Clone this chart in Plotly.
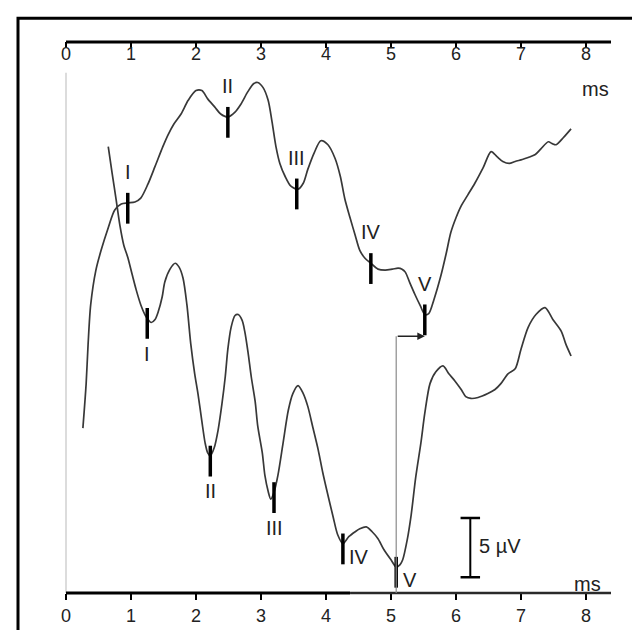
import numpy as np
import plotly.graph_objects as go

# ---------------- data ----------------
tick_vals = [0, 1, 2, 3, 4, 5, 6, 7, 8]
tick_text = ["0", "1", "2", "3", "4", "5", "6", "7", "8"]
peak_names = ["I", "II", "III", "IV", "V"]

# upper waveform (ms, µV incl. display offset)
upper_t = [0.26, 0.31, 0.34, 0.38, 0.46, 0.54, 0.65, 0.75, 0.85, 0.95, 1.06, 1.15, 1.26, 1.37, 1.49,
           1.57, 1.66, 1.77, 1.88, 2.0, 2.09, 2.18, 2.29, 2.38, 2.49, 2.6, 2.69, 2.8, 2.89, 2.95,
           3.03, 3.11, 3.17, 3.23, 3.29, 3.37, 3.46, 3.57, 3.65, 3.72, 3.82, 3.92, 4.03, 4.14, 4.22,
           4.29, 4.37, 4.45, 4.52, 4.6, 4.69, 4.8, 4.91, 5.02, 5.11, 5.17, 5.22, 5.29, 5.37, 5.45,
           5.52, 5.58, 5.66, 5.77, 5.85, 5.92, 6.0, 6.08, 6.18, 6.29, 6.42, 6.54, 6.63, 6.72, 6.82,
           6.91, 7.02, 7.11, 7.22, 7.31, 7.42, 7.48, 7.54, 7.65, 7.77]
upper_v = [13.92, 17.67, 21.0, 24.33, 27.25, 28.92, 30.83, 32.33, 32.83, 32.92, 33.0, 33.33, 34.5, 36.0, 37.67,
           38.67, 39.58, 40.42, 41.58, 42.4, 42.4, 41.7, 41.0, 40.42, 40.17, 40.58, 41.25, 42.33, 43.0, 43.08,
           42.67, 41.58, 39.75, 37.67, 36.25, 35.17, 34.33, 34.08, 34.58, 35.75, 37.17, 38.17, 37.83, 36.67, 35.17,
           33.25, 31.67, 30.17, 28.92, 28.25, 27.83, 27.33, 27.25, 27.33, 27.42, 27.33, 27.08, 26.17, 25.17, 24.25,
           23.5, 23.58, 24.75, 26.83, 28.67, 30.42, 31.67, 32.67, 33.58, 34.58, 35.92, 37.25, 36.83, 36.42, 36.25,
           36.42, 36.58, 36.75, 37.0, 37.5, 38.08, 37.92, 37.83, 38.42, 39.17]
upper_peaks = [0.95, 2.49, 3.55, 4.69, 5.52]

# lower waveform
lower_t = [0.65, 0.71, 0.77, 0.83, 0.89, 0.95, 1.02, 1.08, 1.15, 1.23, 1.31, 1.37, 1.42, 1.48, 1.52,
           1.6, 1.68, 1.74, 1.8, 1.86, 1.92, 1.98, 2.03, 2.09, 2.14, 2.18, 2.22, 2.28, 2.34, 2.4,
           2.45, 2.49, 2.54, 2.6, 2.65, 2.71, 2.75, 2.8, 2.85, 2.91, 2.95, 3.02, 3.06, 3.11, 3.15,
           3.2, 3.26, 3.34, 3.42, 3.49, 3.57, 3.65, 3.72, 3.8, 3.88, 3.95, 4.03, 4.11, 4.18, 4.26,
           4.35, 4.45, 4.52, 4.62, 4.71, 4.8, 4.89, 5.0, 5.08, 5.14, 5.18, 5.25, 5.31, 5.38, 5.46,
           5.52, 5.6, 5.69, 5.8, 5.89, 5.98, 6.08, 6.15, 6.23, 6.34, 6.49, 6.6, 6.69, 6.8, 6.91,
           7.0, 7.11, 7.23, 7.37, 7.49, 7.62, 7.69, 7.77]
lower_v = [37.67, 35.42, 33.25, 31.0, 29.33, 28.33, 26.83, 25.58, 24.33, 23.33, 22.83, 23.08, 23.75, 25.0, 26.25,
           27.33, 27.83, 27.5, 26.58, 24.33, 21.0, 18.5, 16.83, 14.5, 12.67, 11.83, 11.58, 12.25, 13.75, 16.0,
           18.25, 20.58, 22.42, 23.42, 23.5, 23.0, 22.08, 20.33, 18.25, 16.17, 14.08, 11.83, 9.92, 8.58, 7.92,
           8.5, 9.92, 12.67, 15.42, 16.83, 17.5, 16.83, 15.75, 13.92, 12.08, 10.17, 8.25, 6.42, 4.92, 4.17,
           4.75, 5.17, 5.42, 5.58, 5.17, 4.58, 3.67, 2.8, 2.2, 2.4, 2.8, 4.5, 6.58, 9.75, 12.67,
           15.17, 17.67, 18.67, 19.17, 18.5, 17.92, 17.17, 16.58, 16.42, 16.5, 16.83, 17.17, 17.67, 18.5, 18.92,
           20.58, 22.42, 23.5, 24.08, 23.08, 22.08, 21.0, 20.0]
lower_peaks = [1.25, 2.22, 3.2, 4.26, 5.08]

scale_uv = 5  # scale bar height in µV

# ---------------- figure ----------------
FONT = "Liberation Sans, Arial, sans-serif"
CURVE = "#383838"
PX_PER_MS = 65.0
PX_PER_UV = 12.0
X_MIN = -18 / PX_PER_MS          # plot area starts 18 px left of 0 ms
X_END = 545 / PX_PER_MS          # end of axis lines
Y_MAX = 558 / PX_PER_UV

fig = go.Figure()

for t, v in [(upper_t, upper_v), (lower_t, lower_v)]:
    fig.add_trace(go.Scatter(x=t, y=v, mode="lines",
                             line=dict(color=CURVE, width=1.7, shape="spline", smoothing=0.8),
                             hoverinfo="skip"))

up_y = np.interp(upper_peaks, upper_t, upper_v)
lo_y = np.interp(lower_peaks, lower_t, lower_v)

for px, py in [(upper_peaks, up_y), (lower_peaks, lo_y)]:
    fig.add_trace(go.Scatter(x=px, y=np.array(py) - 0.45, mode="markers",
                             marker=dict(symbol="line-ns", size=22,
                                         line=dict(color="black", width=3.5)),
                             hoverinfo="skip"))

# invisible trace for top axis
fig.add_trace(go.Scatter(x=[X_MIN, X_END], y=[None, None], xaxis="x2", mode="lines",
                         showlegend=False, hoverinfo="skip"))

annots = []
lab_font = dict(family=FONT, size=20, color="#222")
for name, x, y in zip(peak_names, upper_peaks, up_y):
    annots.append(dict(x=x, y=y + 2.6, text=name, showarrow=False, font=lab_font,
                       xanchor="center", yanchor="middle"))
for i, (name, x, y) in enumerate(zip(peak_names, lower_peaks, lo_y)):
    if i < 3:
        annots.append(dict(x=x, y=y - 3.0, text=name, showarrow=False, font=lab_font,
                           xanchor="center", yanchor="middle"))
    else:
        annots.append(dict(x=x + 0.07, y=y - 1.1, text=name, showarrow=False, font=lab_font,
                           xanchor="left", yanchor="middle"))

# ms units
annots.append(dict(x=8.14, y=42.5, text="ms", showarrow=False, font=lab_font,
                   xanchor="center", yanchor="middle"))
annots.append(dict(x=8.02, y=0.8, text="ms", showarrow=False, font=lab_font,
                   xanchor="center", yanchor="middle"))

# arrow from lower V latency to upper V latency
arrow_y = 21.67
annots.append(dict(x=upper_peaks[4], y=arrow_y, ax=lower_peaks[4], ay=arrow_y,
                   xref="x", yref="y", axref="x", ayref="y", text="", showarrow=True,
                   arrowhead=2, arrowsize=1, arrowwidth=1.5, arrowcolor="#222"))

# scale bar
sb_x, sb_y0 = 6.22, 1.33
annots.append(dict(x=6.33, y=sb_y0 + scale_uv / 2 + 0.1, text="5 µV", showarrow=False,
                   font=lab_font, xanchor="left", yanchor="middle"))

YP = lambda uv: uv / Y_MAX  # µV -> paper fraction (for unclipped lines)

shapes = [
    # frame
    dict(type="rect", xref="paper", yref="paper", x0=(10 - 40) / 563, x1=(660 - 40) / 563,
         y0=(592 - 660) / 558, y1=(592 - 10) / 558, line=dict(color="black", width=3)),
    # axis lines
    dict(type="line", xref="x", yref="paper", x0=0, x1=X_END, y0=1, y1=1,
         line=dict(color="black", width=3)),
    dict(type="line", xref="x", yref="paper", x0=0, x1=4.37, y0=0, y1=0,
         line=dict(color="black", width=3)),
    dict(type="line", xref="x", yref="paper", x0=4.37, x1=X_END, y0=0, y1=0,
         line=dict(color="#2a2a2a", width=2.5)),
    # gray zero line
    dict(type="line", xref="x", yref="y", x0=0, x1=0, y0=0, y1=43.9, layer="below",
         line=dict(color="#dcdcdc", width=2)),
    # vertical gray latency line
    dict(type="line", xref="x", yref="y", x0=lower_peaks[4], x1=lower_peaks[4], y0=0, y1=arrow_y,
         line=dict(color="#8a8a8a", width=1.2)),
    # scale bar
    dict(type="line", xref="x", yref="y", x0=sb_x, x1=sb_x, y0=sb_y0, y1=sb_y0 + scale_uv,
         line=dict(color="black", width=2)),
    dict(type="line", xref="x", yref="y", x0=sb_x - 0.15, x1=sb_x + 0.15, y0=sb_y0, y1=sb_y0,
         line=dict(color="black", width=2.5)),
    dict(type="line", xref="x", yref="y", x0=sb_x - 0.15, x1=sb_x + 0.15,
         y0=sb_y0 + scale_uv, y1=sb_y0 + scale_uv, line=dict(color="black", width=2.5)),
]

axis_common = dict(range=[X_MIN, X_END], showline=False,
                   tickvals=tick_vals, ticktext=tick_text, ticklen=6, tickwidth=2,
                   tickcolor="black", showgrid=False, zeroline=False,
                   tickfont=dict(family=FONT, size=18, color="#222"), fixedrange=True)

fig.update_layout(
    width=640, height=630,
    margin=dict(l=40, r=37, t=34, b=38),
    paper_bgcolor="white", plot_bgcolor="white",
    showlegend=False,
    xaxis=dict(**axis_common, ticks="outside", side="bottom"),
    xaxis2=dict(**axis_common, ticks="inside", side="top", overlaying="x",
                ticklabelposition="inside"),
    yaxis=dict(range=[0, Y_MAX], visible=False, fixedrange=True),
    annotations=annots,
    shapes=shapes,
)

fig.write_html("out.html")
